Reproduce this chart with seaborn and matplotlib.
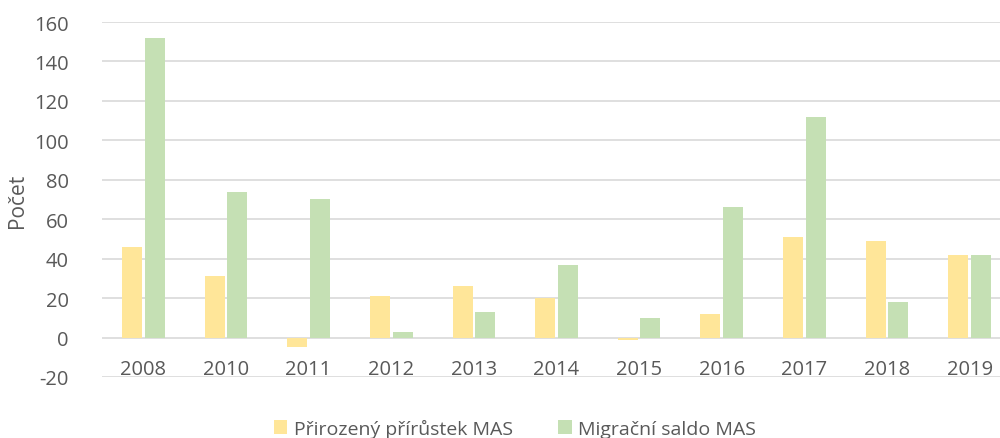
import matplotlib
matplotlib.use("Agg")
import matplotlib.pyplot as plt
import seaborn as sns
import pandas as pd
from matplotlib.patches import Patch

years = ["2008", "2010", "2011", "2012", "2013", "2014", "2015", "2016", "2017", "2018", "2019"]
natural = [46, 31, -5, 21, 26, 20, -1, 12, 51, 49, 42]
migration = [152, 74, 70, 3, 13, 37, 10, 66, 112, 18, 42]
series_names = ["Přirozený přírůstek MAS", "Migrační saldo MAS"]
colors = ["#FFE699", "#C5E0B4"]
yticks = list(range(-20, 161, 20))

df = pd.DataFrame({
    "Rok": years * 2,
    "Hodnota": natural + migration,
    "Řada": [series_names[0]] * len(years) + [series_names[1]] * len(years),
})

sns.set_theme(style="white")
plt.rcParams["font.family"] = ["Open Sans", "DejaVu Sans"]
text_color = "#595959"

fig = plt.figure(figsize=(10, 4.39), dpi=100)
ax = fig.add_axes([0.102, 0.139, 0.909, 0.8086])

sns.barplot(data=df, x="Rok", y="Hodnota", hue="Řada", palette=colors,
            order=years, hue_order=series_names, width=0.55, gap=0.12,
            ax=ax, legend=False, saturation=1, linewidth=0)

ax.set_ylim(-20, 160)
ax.set_xlim(-0.5, len(years) - 0.5)
ax.set_yticks(yticks)
ax.set_yticklabels([str(v) for v in yticks], color=text_color, fontsize=14.5)
ax.yaxis.grid(True, color="#D9D9D9", linewidth=1.2)
ax.set_axisbelow(True)
for s in ax.spines.values():
    s.set_visible(False)
ax.tick_params(axis="y", length=0, pad=24)
ax.set_xticks([])
ax.set_xlabel("")
ax.set_ylabel("Počet", color=text_color, fontsize=15, labelpad=4)

for i, y in enumerate(years):
    ax.text(i, -16, y, ha="center", va="center", color=text_color, fontsize=14.5)

handles = [Patch(facecolor=c, edgecolor="none") for c in colors]
fig.legend(handles, series_names, loc="center", bbox_to_anchor=(0.515, 0.022),
           ncol=2, frameon=False, fontsize=14, labelcolor=text_color,
           handlelength=0.7, handleheight=0.7, handletextpad=0.35, columnspacing=2.3)

fig.savefig("out.png", dpi=100)
